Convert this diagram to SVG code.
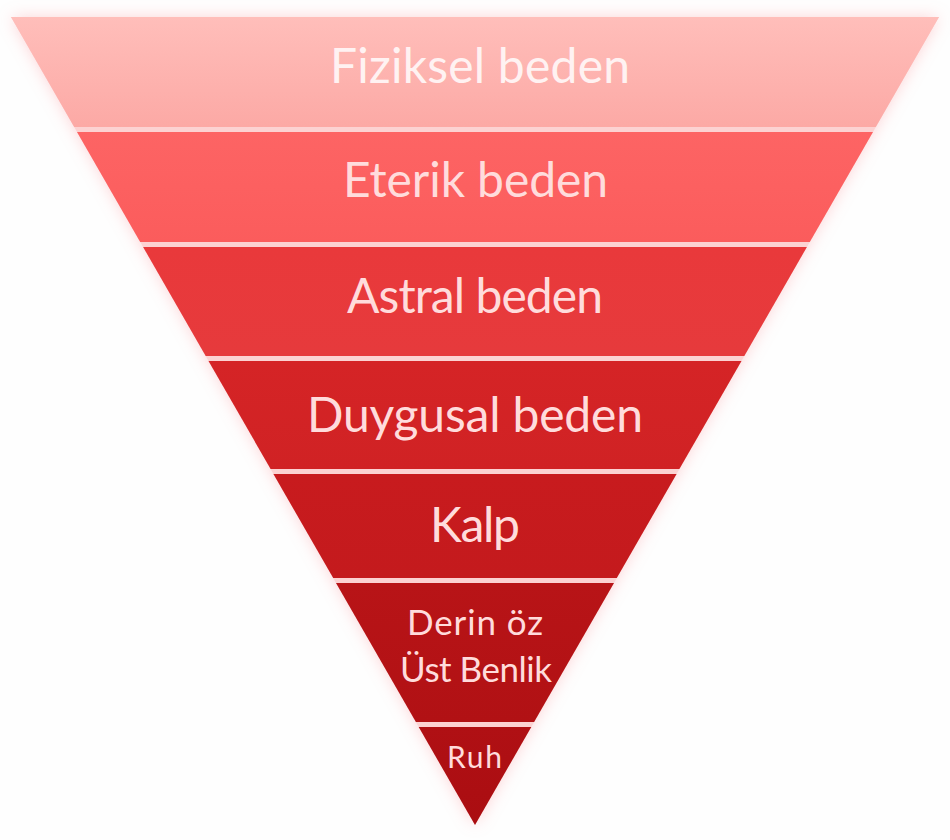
<svg xmlns="http://www.w3.org/2000/svg" width="950" height="840" viewBox="0 0 950 840">
  <defs>
    <filter id="glow" x="-10%" y="-10%" width="120%" height="120%">
      <feGaussianBlur in="SourceAlpha" stdDeviation="8"/>
      <feColorMatrix type="matrix" values="0 0 0 0 0.97  0 0 0 0 0.4  0 0 0 0 0.42  0 0 0 0.5 0"/>
      <feMerge><feMergeNode/><feMergeNode in="SourceGraphic"/></feMerge>
    </filter>
    <linearGradient id="g1" x1="0" y1="0" x2="0" y2="1">
      <stop offset="0" stop-color="#ffbeba"/>
      <stop offset="1" stop-color="#fca9a5"/>
    </linearGradient>
    <linearGradient id="g2" x1="0" y1="0" x2="0" y2="1">
      <stop offset="0" stop-color="#fd6464"/>
      <stop offset="1" stop-color="#fb5c5c"/>
    </linearGradient>
    <linearGradient id="g3" x1="0" y1="0" x2="0" y2="1">
      <stop offset="0" stop-color="#e9393b"/>
      <stop offset="1" stop-color="#e63a3c"/>
    </linearGradient>
    <linearGradient id="g4" x1="0" y1="0" x2="0" y2="1">
      <stop offset="0" stop-color="#d52426"/>
      <stop offset="1" stop-color="#d02224"/>
    </linearGradient>
    <linearGradient id="g5" x1="0" y1="0" x2="0" y2="1">
      <stop offset="0" stop-color="#c81b1e"/>
      <stop offset="1" stop-color="#c41a1d"/>
    </linearGradient>
    <linearGradient id="g6" x1="0" y1="0" x2="0" y2="1">
      <stop offset="0" stop-color="#b81417"/>
      <stop offset="1" stop-color="#b11114"/>
    </linearGradient>
    <linearGradient id="g7" x1="0" y1="0" x2="0" y2="1">
      <stop offset="0" stop-color="#b01014"/>
      <stop offset="1" stop-color="#aa0d11"/>
    </linearGradient>
  </defs>
  <style>
    .lbl { font-family: Lato, "Open Sans", "Liberation Sans", sans-serif; fill: #ffdcdc; text-anchor: middle; }
    .big { font-size: 48px; }
    .small { font-size: 35px; }
    .tiny { font-size: 30px; }
  </style>
  <rect x="0" y="0" width="950" height="840" fill="#fefefe"/>
  <g id="base" filter="url(#glow)">
    <polygon points="11,17 939,17 475,825" fill="#fcd2d2"/>
  </g>
  <g id="fiziksel">
    <polygon points="11,17 939,17 875.8,127 74.2,127" fill="url(#g1)"/>
    <text class="lbl big" x="480" y="83" textLength="300" lengthAdjust="spacing" style="fill:#fff2f2">Fiziksel beden</text>
  </g>
  <g id="eterik">
    <polygon points="77,132 873,132 809.8,242 140.2,242" fill="url(#g2)"/>
    <text class="lbl big" x="475.5" y="197" textLength="265" lengthAdjust="spacing">Eterik beden</text>
  </g>
  <g id="astral">
    <polygon points="143.1,247 806.9,247 744.3,356 205.7,356" fill="url(#g3)"/>
    <text class="lbl big" x="475" y="313" textLength="256" lengthAdjust="spacing">Astral beden</text>
  </g>
  <g id="duygusal">
    <polygon points="208.5,361 741.5,361 679.4,469 270.6,469" fill="url(#g4)"/>
    <text class="lbl big" x="475" y="432" textLength="336" lengthAdjust="spacing">Duygusal beden</text>
  </g>
  <g id="kalp">
    <polygon points="273.4,474 676.6,474 616.8,578 333.2,578" fill="url(#g5)"/>
    <text class="lbl big" x="475" y="542" textLength="90" lengthAdjust="spacing">Kalp</text>
  </g>
  <g id="derin">
    <polygon points="336,583 614,583 534.1,722 415.9,722" fill="url(#g6)"/>
    <text class="lbl small" x="475" y="635" textLength="136" lengthAdjust="spacing">Derin öz</text>
    <text class="lbl small" x="476" y="682" textLength="152" lengthAdjust="spacing">Üst Benlik</text>
  </g>
  <g id="ruh">
    <polygon points="418.7,727 531.3,727 475,825" fill="url(#g7)"/>
    <text class="lbl tiny" x="474.5" y="768" textLength="55" lengthAdjust="spacing">Ruh</text>
  </g>
</svg>
